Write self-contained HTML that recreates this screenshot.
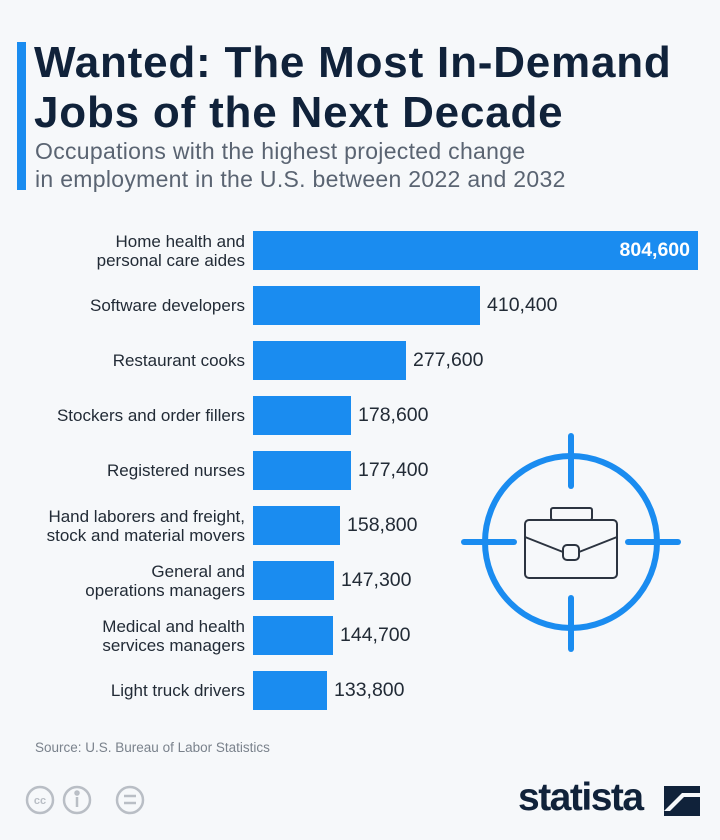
<!DOCTYPE html>
<html><head><meta charset="utf-8"><style>
body{margin:0;width:720px;height:840px;background:#f6f8fa;font-family:"Liberation Sans",sans-serif;position:relative;overflow:hidden}
.a{position:absolute}
.t{left:34px;top:38px;font-size:44px;font-weight:bold;color:#10223a;line-height:50px;letter-spacing:0.8px;white-space:nowrap}
.s{left:35px;top:137px;font-size:23px;color:#5a6472;line-height:28px;letter-spacing:0.3px;white-space:nowrap}
.lab{position:absolute;right:475px;font-size:17px;color:#222b36;text-align:right;line-height:19px;white-space:nowrap}
.bar{position:absolute;left:253px;height:39px;background:#1a8cf0}
.v{position:absolute;font-size:19.5px;color:#222b36}
</style></head><body>
<div class="a" style="left:17px;top:42px;width:9px;height:148px;background:#1a8cf0"></div>
<div class="a t">Wanted: The Most In-Demand<br>Jobs of the Next Decade</div>
<div class="a s">Occupations with the highest projected change<br>in employment in the U.S. between 2022 and 2032</div>

<div class="bar" style="top:231px;width:445px"></div>
<div class="v" style="right:30px;top:239px;color:#fff;font-weight:bold">804,600</div>
<div class="lab" style="top:232px">Home health and<br>personal care aides</div>

<div class="bar" style="top:286px;width:227px"></div><div class="v" style="left:487px;top:294px">410,400</div>
<div class="lab" style="top:296px">Software developers</div>
<div class="bar" style="top:341px;width:153px"></div><div class="v" style="left:413px;top:349px">277,600</div>
<div class="lab" style="top:351px">Restaurant cooks</div>
<div class="bar" style="top:396px;width:98px"></div><div class="v" style="left:358px;top:404px">178,600</div>
<div class="lab" style="top:406px">Stockers and order fillers</div>
<div class="bar" style="top:451px;width:98px"></div><div class="v" style="left:358px;top:459px">177,400</div>
<div class="lab" style="top:461px">Registered nurses</div>
<div class="bar" style="top:506px;width:87px"></div><div class="v" style="left:347px;top:514px">158,800</div>
<div class="lab" style="top:507px">Hand laborers and freight,<br>stock and material movers</div>
<div class="bar" style="top:561px;width:81px"></div><div class="v" style="left:341px;top:569px">147,300</div>
<div class="lab" style="top:562px">General and<br>operations managers</div>
<div class="bar" style="top:616px;width:80px"></div><div class="v" style="left:340px;top:624px">144,700</div>
<div class="lab" style="top:617px">Medical and health<br>services managers</div>
<div class="bar" style="top:671px;width:74px"></div><div class="v" style="left:334px;top:679px">133,800</div>
<div class="lab" style="top:681px">Light truck drivers</div>

<svg class="a" style="left:0;top:0" width="720" height="840">
<g stroke="#1a8cf0" stroke-width="6" stroke-linecap="round" fill="none">
<circle cx="571" cy="542" r="86"/>
<line x1="571" y1="436" x2="571" y2="486"/><line x1="571" y1="598" x2="571" y2="649"/>
<line x1="464" y1="542" x2="514" y2="542"/><line x1="628" y1="542" x2="678" y2="542"/>
</g>
<g stroke="#2c3440" stroke-width="2" fill="none">
<rect x="525" y="520" width="92" height="58" rx="4"/>
<rect x="551" y="508" width="41" height="12" rx="2"/>
<path d="M525 537 L563 552 M617 537 L579 552"/>
<rect x="563" y="545" width="16" height="15" rx="4"/>
</g>
<g stroke="#b9bec5" stroke-width="2.5" fill="none">
<circle cx="40" cy="800" r="13"/><circle cx="77" cy="800" r="13"/><circle cx="130" cy="800" r="13"/>
<path d="M124 796h12M124 803h12"/><circle cx="77" cy="793" r="1.5"/><path d="M77 797v10"/>
</g>
<text x="40" y="804" font-size="11" fill="#b9bec5" font-family="Liberation Sans" text-anchor="middle" font-weight="bold">cc</text>
<rect x="664" y="786" width="36" height="30" fill="#10223a"/>
<path d="M664 811 L682 793 L700 793 L700 797 L684 797 L670 811 Z" fill="#f6f8fa"/>
</svg>
<div class="a" style="left:35px;top:740px;font-size:13.5px;color:#7a828c">Source: U.S. Bureau of Labor Statistics</div>
<div class="a" style="left:518px;top:776px;font-size:39px;font-weight:bold;color:#10223a;letter-spacing:-1.5px">statista</div>
</body></html>
